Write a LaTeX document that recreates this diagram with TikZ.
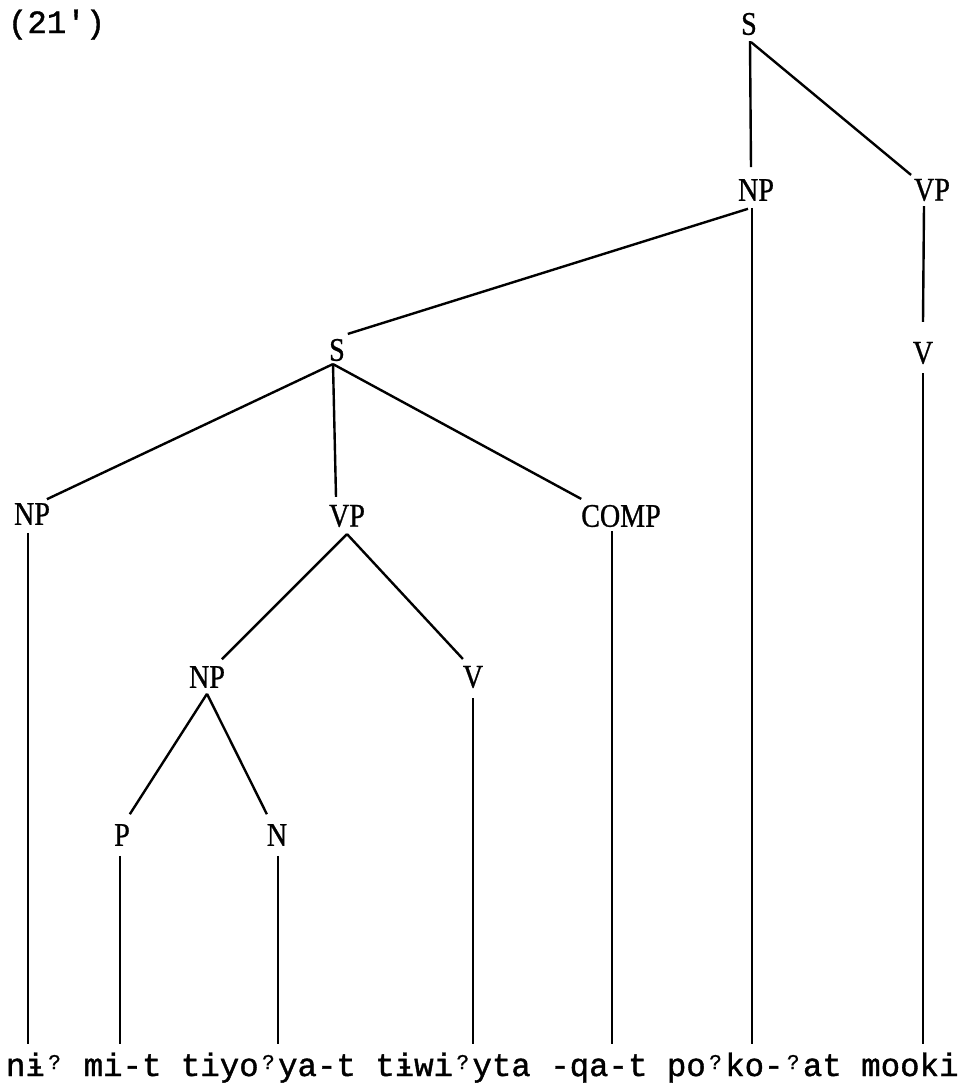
\documentclass[tikz,border=0pt]{standalone}
\usepackage{fontspec}
\newfontfamily\labfont[FakeStretch=0.85,FakeBold=0.8]{Liberation Serif}
\newfontfamily\typfont[FakeBold=1.2]{Liberation Mono}
\newcommand\gs{\makebox[19.4pt][c]{\raisebox{7pt}{\fontsize{21}{21}\selectfont ?}}}
\begin{document}
\begin{tikzpicture}[x=1pt,y=-1pt,
  lab/.style={font=\labfont\fontsize{33}{33}\selectfont, inner sep=0pt, outer sep=0pt},
  typ/.style={font=\typfont\fontsize{32.4}{33}\selectfont, inner sep=0pt, outer sep=0pt, anchor=base west},
  edge/.style={line width=2.4pt}]
\useasboundingbox (0,0) rectangle (973,1088);
% labels
\node[typ] (num) at (8,33) {(21\char"0027)};
\node[lab] (S0) at (749,24) {S};
\node[lab] (NPr) at (756,190) {NP};
\node[lab] (VPr) at (932,190) {VP};
\node[lab] (Vr) at (923,353) {V};
\node[lab] (Sm) at (337,350) {S};
\node[lab] (NPl) at (32,514) {NP};
\node[lab] (VPm) at (347,516) {VP};
\node[lab] (COMP) at (621,516) {COMP};
\node[lab] (NPm) at (207,677) {NP};
\node[lab] (V) at (473,677) {V};
\node[lab] (P) at (122,835) {P};
\node[lab] (N) at (277,835) {N};
% words
\node[typ] (words) at (6,1076) {n\char"0268\gs{} mi-t tiyo\gs ya-t t\char"0268 wi\gs yta -qa-t po\gs ko-\gs at mooki};
% leaf ends
\coordinate (l1) at (28,1044);
\coordinate (l2) at (120,1044);
\coordinate (l3) at (278,1044);
\coordinate (l4) at (473,1044);
\coordinate (l5) at (612,1044);
\coordinate (l6) at (752,1044);
\coordinate (l7) at (923,1044);
% edges
\draw[edge] ([xshift=1pt,yshift=-6pt]S0.south) -- ([xshift=-5pt,yshift=12pt]NPr.north);
\draw[edge] ([xshift=2pt,yshift=-7pt]S0.south) -- ([xshift=-3pt,yshift=4pt]VPr.north west);
\draw[edge] ([xshift=-8pt,yshift=-8pt]NPr.south) -- ([xshift=3pt,yshift=5pt]Sm.north east);
\draw[edge] ([xshift=-4pt,yshift=-7pt]NPr.south) -- (l6);
\draw[edge] ([xshift=-8pt,yshift=-5pt]VPr.south) -- ([yshift=20pt]Vr.north);
\draw[edge] ([yshift=-9pt]Vr.south) -- (l7);
\draw[edge] ([xshift=-4pt,yshift=-3pt]Sm.south) -- ([xshift=-3pt,yshift=4pt]NPl.north east);
\draw[edge] ([xshift=-4pt,yshift=-3pt]Sm.south) -- ([xshift=-11pt,yshift=8pt]VPm.north);
\draw[edge] ([xshift=-4pt,yshift=-3pt]Sm.south) -- ([yshift=6pt]COMP.north west);
\draw[edge] ([xshift=-4pt,yshift=-8pt]NPl.south) -- (l1);
\draw[edge] ([xshift=-9pt,yshift=-4pt]COMP.south) -- (l5);
\draw[edge] ([yshift=-7pt]VPm.south) -- ([xshift=-3pt,yshift=7pt]NPm.north east);
\draw[edge] ([yshift=-7pt]VPm.south) -- ([yshift=7pt]V.north west);
\draw[edge] ([yshift=-6pt]NPm.south) -- ([xshift=0pt,yshift=10pt]P.north east);
\draw[edge] ([yshift=-6pt]NPm.south) -- ([xshift=0pt,yshift=10pt]N.north west);
\draw[edge] ([yshift=-10pt]V.south) -- (l4);
\draw[edge] ([xshift=-2pt,yshift=-10pt]P.south) -- (l2);
\draw[edge] ([xshift=1pt,yshift=-10pt]N.south) -- (l3);
\end{tikzpicture}
\end{document}
